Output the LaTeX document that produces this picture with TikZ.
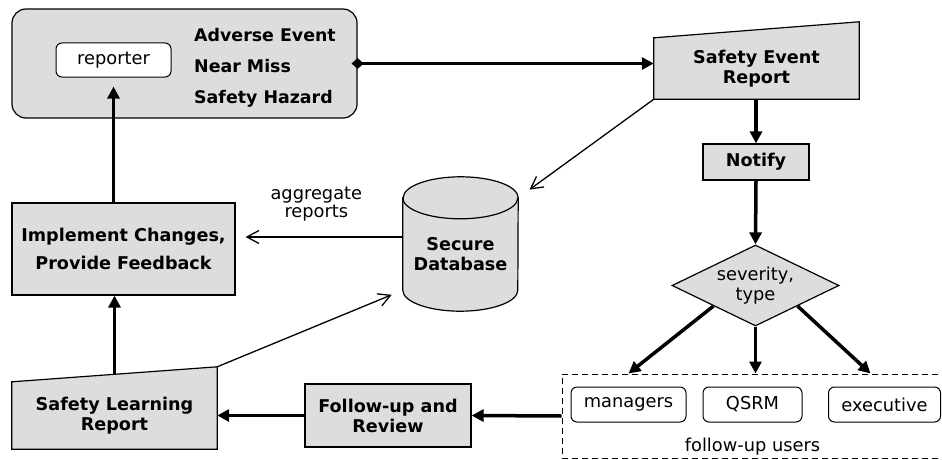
\documentclass[tikz,border=0pt]{standalone}
\usepackage{fontspec}
\setmainfont{DejaVu Sans}
\usetikzlibrary{shapes.geometric,arrows.meta,backgrounds}
\definecolor{boxgray}{RGB}{221,221,221}

\begin{document}
\begin{tikzpicture}[x=1pt,y=-1pt,
	graybox/.style={draw=black,line width=1.2pt,fill=boxgray,align=center,inner sep=0pt,font=\fontsize{17.6}{20}\selectfont\bfseries},
	whitebox/.style={draw=black,line width=1pt,fill=white,rounded corners=6pt,inner sep=0pt,minimum height=35pt,font=\fontsize{17.8}{20}\selectfont},
	boldtext/.style={align=center,inner sep=0pt,font=\fontsize{17.6}{20}\selectfont\bfseries},
	bigarrow/.style={line width=3.5pt,-{Triangle[length=12pt,width=12pt]}},
	thinarrow/.style={line width=1.3pt,-{Straight Barb[length=12pt,width=13pt]}}]
	\useasboundingbox (0,0) rectangle (942,460);

\node (event) [graybox,rounded corners=14pt,minimum width=345pt,minimum height=109pt] at (184.5,63.5) {};
\node (reporter) [whitebox,minimum width=115pt,minimum height=34pt] at (113.5,60) {reporter};
\node (kinds) [anchor=west,align=left,inner sep=0pt,font=\fontsize{17.4}{31}\selectfont\bfseries] at (194,67.5) {Adverse Event\\Near Miss\\Safety Hazard};

\node (ser) [boldtext,minimum width=205pt,minimum height=61pt] at (756.5,68.5) {Safety Event\\Report};
\node (notify) [graybox,minimum width=106pt,minimum height=36pt] at (756,162) {Notify};
\node (type) [diamond,draw=black,line width=1.2pt,fill=boxgray,aspect=2,inner sep=1pt,minimum width=167pt,minimum height=81pt,align=center,font=\fontsize{17.8}{20}\selectfont] at (755.5,285.5) {severity,\\type};

\node (users) [draw=black,line width=1pt,dash pattern=on 6pt off 4pt,minimum width=381pt,minimum height=84pt,label={[anchor=south,inner sep=3pt,font=\fontsize{17.8}{20}\selectfont]south:follow-up users}] at (752.5,416) {};
\node (managers) [whitebox,minimum width=115pt] at (628.5,404.5) {managers};
\node (qsrm) [whitebox,minimum width=99pt] at (752.5,404.5) {QSRM};
\node (executive) [whitebox,minimum width=112pt] at (884.5,404.5) {executive};

\node (followup) [graybox,minimum width=166pt,minimum height=63pt] at (388,415.5) {Follow-up and\\Review};
\node (slr) [boldtext,minimum width=205pt,minimum height=67pt] at (114.5,415.5) {Safety Learning\\Report};
\node (impl) [graybox,minimum width=223pt,minimum height=92pt,font=\fontsize{17.6}{28}\selectfont\bfseries] at (123.5,249) {Implement Changes,\\Provide Feedback};
\node (db) [boldtext,minimum width=115pt,minimum height=113pt] at (460.5,254.5) {Secure\\Database};

\begin{scope}[on background layer]
	\draw[line width=1.2pt,fill=boxgray] (ser.south west) -- (ser.south east) -- ([yshift=16pt]ser.north east) -- (ser.north west) -- cycle;
	\draw[line width=1.2pt,fill=boxgray] (slr.south west) -- (slr.south east) -- ([yshift=15pt]slr.north east) -- (slr.north west) -- cycle;
	\draw[line width=1.2pt,fill=boxgray] (db.north west) -- ([yshift=21pt]db.south west) arc[start angle=180,end angle=360,x radius=57.5pt,y radius=21pt] -- (db.north east) arc[start angle=0,end angle=180,x radius=57.5pt,y radius=21pt] -- cycle;
	\draw[line width=1.2pt] (db.north west) arc[start angle=180,end angle=360,x radius=57.5pt,y radius=21pt];
\end{scope}

\coordinate (slrcorner) at ([yshift=15pt]slr.north east);
\coordinate (aggtip) at ([xshift=10pt,yshift=12pt]impl.east);

\draw[bigarrow,{Diamond[length=12pt,width=11pt]}-{Triangle[length=12pt,width=12pt]}] ([xshift=-6pt]event.east) -- (event.east -| ser.west);
\draw[bigarrow] (ser.south -| notify.north) -- (notify.north);
\draw[bigarrow] (notify.south) -- (type.north);
\draw[bigarrow] (type.south west) -- (users.north -| managers.north);
\draw[bigarrow] (type.south) -- (type.south |- users.north);
\draw[bigarrow] (type.south east) -- ([xshift=-14pt]users.north -| executive.north);
\draw[bigarrow] (users.west) -- (followup.east);
\draw[bigarrow] (followup.west) -- (slr.east);
\draw[bigarrow] ([yshift=7pt]slr.north) -- (impl.south -| slr.north);
\draw[bigarrow,shorten >=9pt] (impl.north -| reporter.south) -- (reporter.south);

\draw[thinarrow,shorten >=14pt] (ser.south west) -- (db.north east);
\draw[thinarrow,shorten >=12pt] (slrcorner) -- ([yshift=21pt]db.south west);
\draw[thinarrow] (db.west |- aggtip) -- (aggtip) node[pos=0.55,above=15pt,inner sep=0pt,align=center,font=\fontsize{17.8}{18}\selectfont] (agglabel) {aggregate\\reports};

\end{tikzpicture}
\end{document}
